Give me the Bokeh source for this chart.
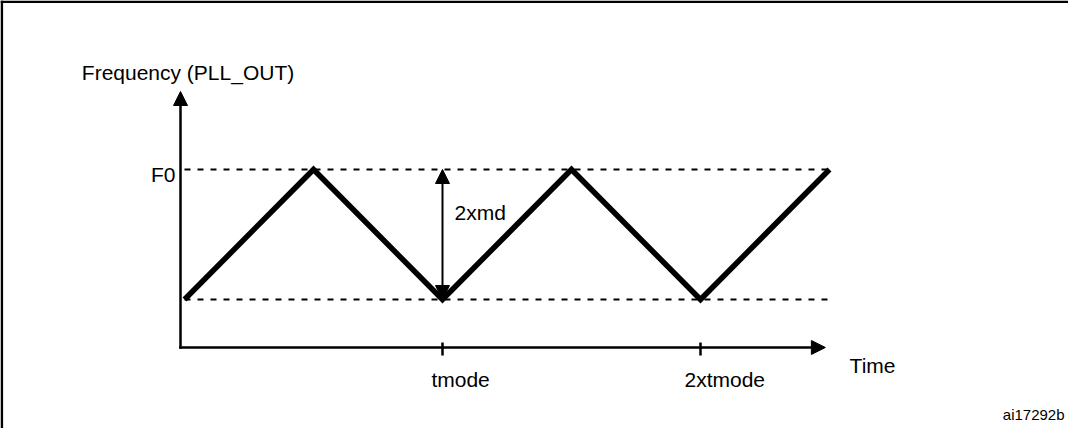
from bokeh.plotting import figure
from bokeh.models import Range1d, Arrow, NormalHead, Span, Label
from bokeh.embed import file_html
from bokeh.resources import INLINE

# ---- data (time in units of tmode, frequency relative: 0 = low level, 1 = F0) ----
wave_t = [0.0, 0.5, 1.0, 1.5, 2.0, 2.5]
wave_f = [0.0, 1.0, 0.0, 1.0, 0.0, 1.0]
level_f = [1.0, 0.0]              # F0 and lower dashed level
level_t0 = [0.0, 0.0]
level_t1 = [2.5, 2.5]
tick_t = [1.0, 2.0]
tick_labels = ["tmode", "2xtmode"]
y_title = "Frequency (PLL_OUT)"
x_title = "Time"
f0_label = "F0"
md_label = "2xmd"
fig_id = "ai17292b"

FONT = "Liberation Sans"
FS = "21px"

X0, X1 = -0.7132, 3.4264
Y0, Y1 = -0.9923, 2.3
PXT = 258.0   # px per time unit
PXF = 130.0   # px per freq unit

p = figure(width=1068, height=428, output_backend="svg", toolbar_location=None,
           x_range=Range1d(X0, X1), y_range=Range1d(Y0, Y1),
           min_border=0, x_axis_type=None, y_axis_type=None)
p.outline_line_color = None
p.background_fill_color = "white"
p.border_fill_color = "white"

# frame border (left and top)
p.add_layout(Span(location=X0 + 1.3 / PXT, dimension="height", line_color="black", line_width=2.6))
p.add_layout(Span(location=Y1 - 1.3 / PXF, dimension="width", line_color="black", line_width=2.6))

# dashed levels
p.segment(x0=level_t0, y0=level_f, x1=level_t1, y1=level_f,
          line_color="black", line_width=2, line_dash="6 7")

# waveform
p.line(wave_t, wave_f, line_color="black", line_width=5.5, line_join="miter")

# axes with arrow heads
AX_T = -0.0155
AX_F = -0.369
Y_TIP = 1.6
X_TIP = 2.484
head = dict(size=14, fill_color="black", line_color="black", line_width=1)
p.add_layout(Arrow(x_start=AX_T, y_start=AX_F - 1.25 / PXF, x_end=AX_T, y_end=Y_TIP,
                   end=NormalHead(**head), line_color="black", line_width=2.5))
p.add_layout(Arrow(x_start=AX_T - 1.25 / PXT, y_start=AX_F, x_end=X_TIP, y_end=AX_F,
                   end=NormalHead(**head), line_color="black", line_width=2.5))

# ticks on time axis
p.segment(x0=tick_t, y0=[-0.331] * len(tick_t), x1=tick_t, y1=[-0.431] * len(tick_t),
          line_color="black", line_width=2.5)

# 2xmd double arrow
p.add_layout(Arrow(x_start=tick_t[0], y_start=level_f[1], x_end=tick_t[0], y_end=level_f[0],
                   start=NormalHead(**head), end=NormalHead(**head),
                   line_color="black", line_width=2))

def lab(x, y, text, align="left", size=FS):
    p.add_layout(Label(x=x, y=y, text=text, text_font=FONT, text_font_size=size,
                       text_align=align, text_baseline="alphabetic", text_color="black"))

lab(-0.398, 1.75, y_title)
lab(-0.035, 0.965, f0_label, align="right")
lab(1.047, 0.669, md_label)
lab(tick_t[0] - 0.043, -0.615, tick_labels[0])
lab(tick_t[1] - 0.062, -0.615, tick_labels[1])
lab(2.578, -0.508, x_title)
lab(3.411, -0.885, fig_id, align="right", size="15px")

open("out.html", "w").write(file_html(p, INLINE))
